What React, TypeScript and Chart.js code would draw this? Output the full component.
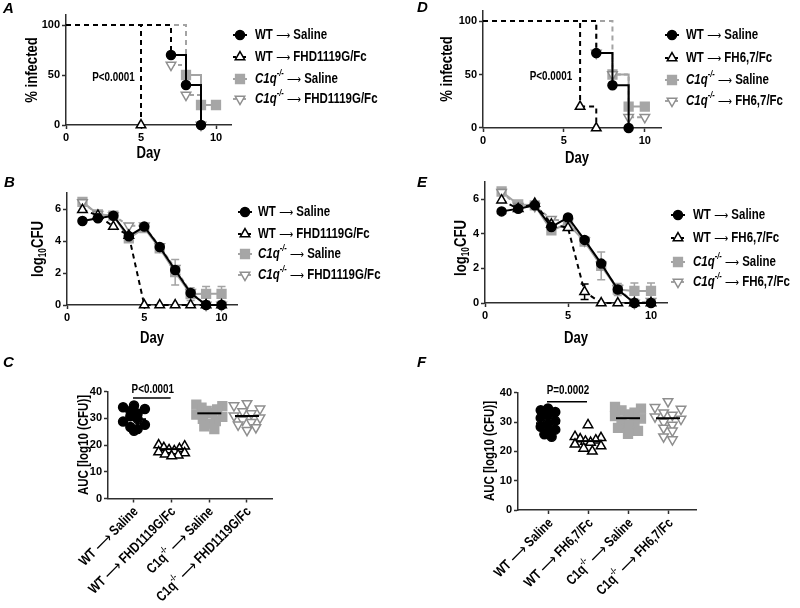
import React, { useEffect, useRef } from 'react';
import { Chart, registerables } from 'chart.js';

Chart.register(...registerables);

// ================= DATA =================
const dayTicks = [0, 5, 10];
const pctTicks = [0, 50, 100];
const cfuTicks = [0, 2, 4, 6];
const aucTicks = [0, 10, 20, 30, 40];
const groupTicks = [1, 2, 3, 4];

const treatLeft = 'FHD1119G/Fc';
const treatRight = 'FH6,7/Fc';
const salineLabel = 'Saline';

// Panel A (survival, % infected)
const kmDaysA_wtSaline = [0, 7, 8, 9];
const kmPctA_wtSaline = [100, 70, 40, 0];
const kmDaysA_wtTreat = [0, 5];
const kmPctA_wtTreat = [100, 0];
const kmDaysA_c1qSaline = [0, 8, 9, 10];
const kmPctA_c1qSaline = [100, 50, 20, 20];
const kmDaysA_c1qTreat = [0, 7, 8, 9];
const kmPctA_c1qTreat = [100, 60, 30, 0];

// Panel D (survival, % infected)
const kmDaysD_wtSaline = [0, 7, 8, 9];
const kmPctD_wtSaline = [100, 70, 40, 0];
const kmDaysD_wtTreat = [0, 6, 7];
const kmPctD_wtTreat = [100, 20, 0];
const kmDaysD_c1qSaline = [0, 8, 9, 10];
const kmPctD_c1qSaline = [100, 50, 20, 20];
const kmDaysD_c1qTreat = [0, 7, 8, 9, 10];
const kmPctD_c1qTreat = [100, 70, 50, 10, 10];

// Panels B / E (log10 CFU by day)
const cfuDays = [1, 2, 3, 4, 5, 6, 7, 8, 9, 10];
const cfuB_wtSaline = [5.25, 5.42, 5.58, 4.3, 4.9, 3.62, 2.19, 0.75, 0, 0];
const cfuB_wtTreat = [5.95, 5.6, 4.9, 4.35, 0, 0, 0, 0, 0, 0];
const cfuB_c1qSaline = [6.45, 5.67, 5.58, 4.17, 4.8, 3.54, 2.05, 0.68, 0.7, 0.7];
const cfuB_c1qSalineErr = [0, 0, 0, 0, 0, 0, 0.8, 0.4, 0.45, 0.45];
const cfuB_c1qTreat = [6.4, 5.67, 5.6, 4.95, 4.95, 3.65, 2.3, 0.8, 0, 0];

const cfuE_wtSaline = [5.3, 5.45, 5.65, 4.4, 4.95, 3.65, 2.28, 0.78, 0, 0];
const cfuE_wtTreat = [5.95, 5.45, 5.75, 4.55, 4.35, 0.65, 0, 0, 0, 0];
const cfuE_wtTreatErr = [0, 0, 0, 0, 0, 0.45, 0, 0, 0, 0];
const cfuE_c1qSaline = [6.45, 5.7, 5.65, 4.2, 4.6, 3.55, 2.15, 0.78, 0.7, 0.7];
const cfuE_c1qSalineErr = [0, 0, 0, 0, 0, 0, 0.8, 0.35, 0.45, 0.45];
const cfuE_c1qTreat = [6.4, 5.6, 5.6, 4.85, 4.7, 3.6, 2.2, 0.85, 0, 0.1];

// Panels C / F (AUC per animal)
const aucC_wtSaline = [34.8, 34.2, 33.5, 32.8, 31.8, 30.8, 29.8, 28.8, 27.6, 26.8, 26, 25.4];
const aucC_wtTreat = [20, 19.6, 19, 18.6, 18.2, 17.8, 17.4, 17, 16.6, 16.2, 15.9];
const aucC_c1qSaline = [35.2, 34.6, 34, 33.4, 32.8, 32, 31.4, 30.6, 29.8, 29, 28, 27, 26];
const aucC_c1qTreat = [35.6, 34.8, 33.6, 32.6, 31.8, 31, 30.2, 29.4, 28.6, 27.6, 26.6, 25.6];
const aucC_means = [29.7, 18.5, 31.9, 30.9];

const aucF_wtSaline = [34.6, 34, 33.4, 32.4, 31.4, 30.4, 29.4, 28.4, 27.4, 26.6, 25.8, 25];
const aucF_wtTreat = [29, 25, 24.6, 24.2, 23.8, 23.4, 23, 22.4, 21.8, 21, 20];
const aucF_c1qSaline = [35.2, 34.6, 34, 33.2, 32.6, 32, 31.2, 30.6, 29.8, 29, 28, 27, 26];
const aucF_c1qTreat = [37, 35, 34.4, 33.2, 32.4, 31.8, 31, 30, 29, 28, 27, 25, 24];
const aucF_means = [29.6, 23.5, 31.3, 31.3];

const pTextA = 'P<0.0001';
const pTextD = 'P<0.0001';
const pTextC = 'P<0.0001';
const pTextF = 'P=0.0002';

// ================= STYLE =================
const SANS = "'Liberation Sans', Arial, sans-serif";
const ARROW_FAM = "'DejaVu Sans', 'Liberation Sans', sans-serif";
const SQ = 0.82; // horizontal squeeze to imitate a narrow face
const INK = '#000000';
const AXIS = '#2e2e2e';
const GRAY = '#a6a6a6';
const GRAY_LINE = '#a3a3a3';
const GRAY_OPEN = '#8e8e8e';
const KM_DASH = [5, 4];

type Shape = 'circle' | 'triangle' | 'rect' | 'invtri';
type Style = { shape: Shape; fill: string; stroke: string; line: string; dash: number[] };
const RADIUS: Record<Shape, number> = { circle: 4.5, triangle: 5.5, rect: 6.2, invtri: 5.5 };

const ST_WT_SAL: Style = { shape: 'circle', fill: INK, stroke: INK, line: INK, dash: [] };
const ST_WT_TRT: Style = { shape: 'triangle', fill: '#ffffff', stroke: INK, line: INK, dash: [5, 4] };
const ST_C1Q_SAL: Style = { shape: 'rect', fill: GRAY, stroke: GRAY, line: GRAY_LINE, dash: [] };
const ST_C1Q_TRT: Style = { shape: 'invtri', fill: '#ffffff', stroke: GRAY_OPEN, line: GRAY_LINE, dash: [4, 3] };
const LEGEND_STYLES = [ST_WT_SAL, ST_WT_TRT, ST_C1Q_SAL, ST_C1Q_TRT];

// ================= TEXT HELPERS =================
type Run = { t: string; w?: string; i?: boolean; s?: number; dy?: number; f?: string };
const arrowRuns = (size: number): Run[] => [{ t: ' ' }, { t: '\u27F6', w: 'normal', f: ARROW_FAM, s: size, dy: 1 }, { t: ' ' }];
const wtRuns = (treat: string, arrow: number): Run[] => [{ t: 'WT' }, ...arrowRuns(arrow), { t: treat }];
const c1qRuns = (treat: string, italic: boolean, arrow: number): Run[] => [
  { t: 'C1q', i: italic },
  { t: '-/-', i: italic, s: 9, dy: -5 },
  ...arrowRuns(arrow),
  { t: treat },
];

function runFont(r: Run, base: number) {
  return `${r.i ? 'italic ' : ''}${r.w ?? 'bold'} ${r.s ?? base}px ${r.f ?? SANS}`;
}
function runsWidth(ctx: CanvasRenderingContext2D, runs: Run[], base: number) {
  let w = 0;
  for (const r of runs) {
    ctx.font = runFont(r, base);
    w += ctx.measureText(r.t).width;
  }
  return w * SQ;
}
function drawRuns(ctx: CanvasRenderingContext2D, runs: Run[], x: number, y: number, base: number) {
  ctx.save();
  ctx.translate(x, y);
  ctx.scale(SQ, 1);
  ctx.textBaseline = 'middle';
  ctx.textAlign = 'left';
  let cx = 0;
  for (const r of runs) {
    ctx.font = runFont(r, base);
    ctx.fillText(r.t, cx, r.dy ?? 0);
    cx += ctx.measureText(r.t).width;
  }
  ctx.restore();
}
function drawRotRuns(ctx: CanvasRenderingContext2D, runs: Run[], cx: number, cy: number, angle: number, base: number, align: 'center' | 'right') {
  ctx.save();
  ctx.translate(cx, cy);
  ctx.rotate(angle);
  ctx.fillStyle = INK;
  const w = runsWidth(ctx, runs, base);
  drawRuns(ctx, runs, align === 'center' ? -w / 2 : -w, 0, base);
  ctx.restore();
}
function centerText(ctx: CanvasRenderingContext2D, t: string, x: number, y: number, size: number) {
  drawRotRuns(ctx, [{ t }], x, y, 0, size, 'center');
}
function letter(ctx: CanvasRenderingContext2D, t: string, x: number, y: number) {
  ctx.save();
  ctx.fillStyle = INK;
  ctx.font = `italic bold 15px ${SANS}`;
  ctx.textAlign = 'left';
  ctx.textBaseline = 'alphabetic';
  ctx.fillText(t, x, y);
  ctx.restore();
}

function marker(ctx: CanvasRenderingContext2D, shape: Shape, x: number, y: number, r: number, fill: string, stroke: string, lw: number) {
  ctx.beginPath();
  if (shape === 'circle') ctx.arc(x, y, r, 0, Math.PI * 2);
  else if (shape === 'rect') {
    const s = r * Math.SQRT1_2;
    ctx.rect(x - s, y - s, 2 * s, 2 * s);
  } else {
    const rot = shape === 'invtri' ? Math.PI : 0;
    for (let i = 0; i < 3; i++) {
      const a = rot + (i * 2 * Math.PI) / 3;
      const px = x + Math.sin(a) * r;
      const py = y - Math.cos(a) * r;
      if (i === 0) ctx.moveTo(px, py);
      else ctx.lineTo(px, py);
    }
    ctx.closePath();
  }
  ctx.fillStyle = fill;
  ctx.fill();
  ctx.lineWidth = lw;
  ctx.strokeStyle = stroke;
  ctx.stroke();
}

function drawLegend(ctx: CanvasRenderingContext2D, mx: number, tx: number, ys: number[], labels: Run[][]) {
  ctx.save();
  LEGEND_STYLES.forEach((st, i) => {
    const y = ys[i];
    ctx.strokeStyle = st.line;
    ctx.lineWidth = 2;
    ctx.setLineDash(st.dash.length ? [3, 2] : []);
    ctx.beginPath();
    ctx.moveTo(mx - 7, y);
    ctx.lineTo(mx + 7, y);
    ctx.stroke();
    ctx.setLineDash([]);
    marker(ctx, st.shape, mx, y, RADIUS[st.shape], st.fill, st.stroke, 1.5);
    ctx.fillStyle = INK;
    drawRuns(ctx, labels[i], tx, y, 14);
  });
  ctx.restore();
}

function legendRuns(treat: string): Run[][] {
  return [wtRuns(salineLabel, 12), wtRuns(treat, 12), c1qRuns(salineLabel, true, 12), c1qRuns(treat, true, 12)];
}
function categoryRuns(treat: string): Run[][] {
  return [wtRuns(salineLabel, 16), wtRuns(treat, 16), c1qRuns(salineLabel, false, 16), c1qRuns(treat, false, 16)];
}

function errorBars(ctx: CanvasRenderingContext2D, chart: any, xs: number[], ys: number[], errs: number[], color: string) {
  const sx = chart.scales.x;
  const sy = chart.scales.y;
  ctx.save();
  ctx.strokeStyle = color;
  ctx.lineWidth = 1.5;
  xs.forEach((x, i) => {
    const e = errs[i];
    if (!e) return;
    const px = sx.getPixelForValue(x);
    const y1 = sy.getPixelForValue(ys[i] + e);
    const y2 = sy.getPixelForValue(Math.max(0, ys[i] - e));
    ctx.beginPath();
    ctx.moveTo(px, y1);
    ctx.lineTo(px, y2);
    ctx.moveTo(px - 4, y1);
    ctx.lineTo(px + 4, y1);
    ctx.moveTo(px - 4, y2);
    ctx.lineTo(px + 4, y2);
    ctx.stroke();
  });
  ctx.restore();
}

function meanLines(ctx: CanvasRenderingContext2D, chart: any, means: number[]) {
  const sx = chart.scales.x;
  const sy = chart.scales.y;
  ctx.save();
  ctx.strokeStyle = INK;
  ctx.lineWidth = 2;
  means.forEach((m, i) => {
    const cx = sx.getPixelForValue(groupTicks[i]);
    const y = sy.getPixelForValue(m);
    ctx.beginPath();
    ctx.moveTo(cx - 12, y);
    ctx.lineTo(cx + 12, y);
    ctx.stroke();
  });
  ctx.restore();
}

function pBar(ctx: CanvasRenderingContext2D, chart: any, t: string, y: number, textY: number) {
  const sx = chart.scales.x;
  const x1 = sx.getPixelForValue(groupTicks[0]);
  const x2 = sx.getPixelForValue(groupTicks[1]);
  ctx.save();
  ctx.strokeStyle = INK;
  ctx.lineWidth = 1.5;
  ctx.beginPath();
  ctx.moveTo(x1 - 1, y);
  ctx.lineTo(x2 - 1, y);
  ctx.stroke();
  ctx.restore();
  centerText(ctx, t, (x1 + x2) / 2, textY, 12);
}

function categoryLabels(ctx: CanvasRenderingContext2D, chart: any, labels: Run[][], dx: number, dy: number) {
  const sx = chart.scales.x;
  const base = chart.chartArea.bottom;
  labels.forEach((runs, i) => {
    const x = sx.getPixelForValue(groupTicks[i]);
    drawRotRuns(ctx, runs, x + dx, base + dy, -Math.PI / 4, 14, 'right');
  });
}

// Prism-like scatter layout: points in the same row band are spread side by side,
// higher values towards the outside of the row (layout only)
function swarm(values: number[], cat: number, pxX: number, pxY: number, diam: number): number[] {
  const binH = diam * 0.9;
  const maxHalf = 13;
  const order = values.map((_, i) => i).sort((a, b) => values[b] - values[a]);
  const bins = new Map<number, number[]>();
  order.forEach((i) => {
    const k = Math.floor((values[i] * pxY) / binH);
    if (!bins.has(k)) bins.set(k, []);
    bins.get(k)!.push(i);
  });
  const xs = values.map(() => cat);
  bins.forEach((idx) => {
    const n = idx.length;
    if (n < 2) return;
    const sp = Math.min(diam * 0.85, (2 * maxHalf) / (n - 1));
    const slots: number[] = [];
    let lo = 0;
    let hi = n - 1;
    while (lo <= hi) {
      slots.push(lo++);
      if (lo <= hi) slots.push(hi--);
    }
    idx.forEach((i, j) => {
      xs[i] = cat + ((slots[j] - (n - 1) / 2) * sp) / pxX;
    });
  });
  return xs;
}

function series(st: Style, xs: number[], ys: number[], mode: 'km' | 'line' | 'dots') {
  const r = RADIUS[st.shape];
  const base: any = {
    data: xs.map((x, i) => ({ x, y: ys[i] })),
    showLine: mode !== 'dots',
    stepped: mode === 'km' ? 'before' : false,
    borderColor: st.line,
    borderWidth: 2,
    borderDash: st.dash,
    fill: false,
    tension: 0,
    pointStyle: st.shape === 'invtri' ? 'triangle' : st.shape,
    pointRotation: st.shape === 'invtri' ? 180 : 0,
    pointRadius: mode === 'km' ? xs.map((_, i) => (i === 0 ? 0 : r)) : r,
    pointBackgroundColor: st.fill,
    pointBorderColor: st.stroke,
    pointBorderWidth: 1.5,
    pointHoverRadius: 0,
    clip: false,
  };
  if (mode === 'km') {
    // the shared 100 % run from day 0 shows up dashed in the figure
    base.segment = { borderDash: (c: any) => (c.p0DataIndex === 0 ? KM_DASH : undefined) };
  }
  return base;
}

type Panel = {
  area: { l: number; r: number; t: number; b: number };
  x: { min: number; max: number; ticks: number[]; labels: boolean };
  y: { min: number; max: number; ticks: number[] };
  datasets: any[];
  under?: (ctx: CanvasRenderingContext2D, chart: any) => void;
  over?: (ctx: CanvasRenderingContext2D, chart: any) => void;
  after?: (ctx: CanvasRenderingContext2D, chart: any) => void;
};

const Y_BOX = 40;
const X_BOX = 22;

function makeConfig(p: Panel): any {
  const { l, r, t, b } = p.area;
  const tickFont = { family: SANS, size: 11, weight: 'bold' as const };
  const grid = { display: true, drawOnChartArea: false, drawTicks: true, tickLength: 4, tickColor: AXIS, tickWidth: 1.5 };
  const border = { display: true, color: AXIS, width: 1.5 };
  return {
    type: 'line',
    data: { datasets: p.datasets },
    options: {
      responsive: false,
      animation: false,
      devicePixelRatio: 1,
      events: [],
      layout: { autoPadding: false, padding: { left: l - Y_BOX, right: 800 - r, top: t, bottom: 608 - b - X_BOX } },
      plugins: { legend: { display: false }, tooltip: { enabled: false }, title: { display: false } },
      scales: {
        x: {
          type: 'linear',
          min: p.x.min,
          max: p.x.max,
          afterFit: (s: any) => { s.height = X_BOX; },
          afterBuildTicks: (s: any) => { s.ticks = p.x.ticks.map((v) => ({ value: v })); },
          ticks: { font: tickFont, color: INK, padding: 2, autoSkip: false, maxRotation: 0, callback: (v: any) => (p.x.labels ? String(v) : '') },
          grid,
          border,
        },
        y: {
          type: 'linear',
          min: p.y.min,
          max: p.y.max,
          afterFit: (s: any) => { s.width = Y_BOX; },
          afterBuildTicks: (s: any) => { s.ticks = p.y.ticks.map((v) => ({ value: v })); },
          ticks: { font: tickFont, color: INK, padding: 2, autoSkip: false, callback: (v: any) => String(v) },
          grid,
          border,
        },
      },
    },
    plugins: [
      {
        id: 'deco',
        beforeDatasetsDraw: (c: any) => p.under && p.under(c.ctx, c),
        afterDatasetsDraw: (c: any) => p.over && p.over(c.ctx, c),
        afterDraw: (c: any) => p.after && p.after(c.ctx, c),
      },
    ],
  };
}

const infectedTitle: Run[] = [{ t: '% infected' }];
const cfuTitle: Run[] = [{ t: 'log' }, { t: '10', s: 10, dy: 4 }, { t: 'CFU' }];
const aucTitle: Run[] = [{ t: 'AUC [log10 (CFU)]' }];

function panelA(): Panel {
  return {
    area: { l: 66, r: 231, t: 15, b: 125 },
    x: { min: 0, max: 11, ticks: dayTicks, labels: true },
    y: { min: 0, max: 110, ticks: pctTicks },
    datasets: [
      series(ST_WT_SAL, kmDaysA_wtSaline, kmPctA_wtSaline, 'km'),
      series(ST_WT_TRT, kmDaysA_wtTreat, kmPctA_wtTreat, 'km'),
      series(ST_C1Q_TRT, kmDaysA_c1qTreat, kmPctA_c1qTreat, 'km'),
      series(ST_C1Q_SAL, kmDaysA_c1qSaline, kmPctA_c1qSaline, 'km'),
    ],
    after: (ctx) => {
      letter(ctx, 'A', 3, 13);
      drawRotRuns(ctx, infectedTitle, 33, 70, -Math.PI / 2, 16, 'center');
      centerText(ctx, 'Day', 148.5, 154, 16);
      centerText(ctx, pTextA, 113.5, 77.5, 12);
      drawLegend(ctx, 240, 255, [35, 57, 79, 99], legendRuns(treatLeft));
    },
  };
}

function panelD(): Panel {
  return {
    area: { l: 483, r: 661, t: 10.3, b: 128 },
    x: { min: 0, max: 11, ticks: dayTicks, labels: true },
    y: { min: 0, max: 110, ticks: pctTicks },
    datasets: [
      series(ST_WT_SAL, kmDaysD_wtSaline, kmPctD_wtSaline, 'km'),
      series(ST_WT_TRT, kmDaysD_wtTreat, kmPctD_wtTreat, 'km'),
      series(ST_C1Q_TRT, kmDaysD_c1qTreat, kmPctD_c1qTreat, 'km'),
      series(ST_C1Q_SAL, kmDaysD_c1qSaline, kmPctD_c1qSaline, 'km'),
    ],
    after: (ctx) => {
      letter(ctx, 'D', 417, 12);
      drawRotRuns(ctx, infectedTitle, 448, 69, -Math.PI / 2, 16, 'center');
      centerText(ctx, 'Day', 577, 159, 16);
      centerText(ctx, pTextD, 551, 77, 12);
      drawLegend(ctx, 672, 686, [35, 58, 80, 101], legendRuns(treatRight));
    },
  };
}

function panelB(): Panel {
  return {
    area: { l: 67, r: 237, t: 193, b: 305 },
    x: { min: 0, max: 11, ticks: dayTicks, labels: true },
    y: { min: 0, max: 7, ticks: cfuTicks },
    datasets: [
      series(ST_WT_SAL, cfuDays, cfuB_wtSaline, 'line'),
      series(ST_WT_TRT, cfuDays, cfuB_wtTreat, 'line'),
      series(ST_C1Q_TRT, cfuDays, cfuB_c1qTreat, 'line'),
      series(ST_C1Q_SAL, cfuDays, cfuB_c1qSaline, 'line'),
    ],
    under: (ctx, c) => errorBars(ctx, c, cfuDays, cfuB_c1qSaline, cfuB_c1qSalineErr, GRAY_LINE),
    after: (ctx) => {
      letter(ctx, 'B', 4, 187);
      drawRotRuns(ctx, cfuTitle, 39, 249, -Math.PI / 2, 16, 'center');
      centerText(ctx, 'Day', 152, 339, 16);
      drawLegend(ctx, 245, 258, [212, 234, 254, 275], legendRuns(treatLeft));
    },
  };
}

function panelE(): Panel {
  return {
    area: { l: 485, r: 667.6, t: 182, b: 303 },
    x: { min: 0, max: 11, ticks: dayTicks, labels: true },
    y: { min: 0, max: 7, ticks: cfuTicks },
    datasets: [
      series(ST_WT_SAL, cfuDays, cfuE_wtSaline, 'line'),
      series(ST_WT_TRT, cfuDays, cfuE_wtTreat, 'line'),
      series(ST_C1Q_TRT, cfuDays, cfuE_c1qTreat, 'line'),
      series(ST_C1Q_SAL, cfuDays, cfuE_c1qSaline, 'line'),
    ],
    under: (ctx, c) => {
      errorBars(ctx, c, cfuDays, cfuE_c1qSaline, cfuE_c1qSalineErr, GRAY_LINE);
      errorBars(ctx, c, cfuDays, cfuE_wtTreat, cfuE_wtTreatErr, INK);
    },
    after: (ctx) => {
      letter(ctx, 'E', 417, 187);
      drawRotRuns(ctx, cfuTitle, 462, 248, -Math.PI / 2, 16, 'center');
      centerText(ctx, 'Day', 576, 339, 16);
      drawLegend(ctx, 678, 693, [215, 238, 262, 282], legendRuns(treatRight));
    },
  };
}

function aucPanel(
  area: Panel['area'], xmin: number, xmax: number,
  groups: number[][], means: number[], pText: string, pY: number, pTextY: number,
  treat: string, letterPos: [string, number, number], titlePos: [number, number], labelDx: number,
): Panel {
  const pxX = (area.r - area.l) / (xmax - xmin);
  const pxY = (area.b - area.t) / 40;
  const styles = [ST_WT_SAL, ST_WT_TRT, ST_C1Q_SAL, ST_C1Q_TRT];
  const datasets = groups.map((vals, gi) => {
    const st = styles[gi];
    const xs = swarm(vals, groupTicks[gi], pxX, pxY, RADIUS[st.shape] * 1.9);
    return series(st, xs, vals, 'dots');
  });
  return {
    area,
    x: { min: xmin, max: xmax, ticks: groupTicks, labels: false },
    y: { min: 0, max: 40, ticks: aucTicks },
    datasets,
    over: (ctx, c) => meanLines(ctx, c, means),
    after: (ctx, c) => {
      letter(ctx, letterPos[0], letterPos[1], letterPos[2]);
      drawRotRuns(ctx, aucTitle, titlePos[0], titlePos[1], -Math.PI / 2, 14, 'center');
      pBar(ctx, c, pText, pY, pTextY);
      categoryLabels(ctx, c, categoryRuns(treat), labelDx, 11);
    },
  };
}

function panelC(): Panel {
  return aucPanel(
    { l: 108, r: 272, t: 391.7, b: 498.5 }, 0.31, 4.664,
    [aucC_wtSaline, aucC_wtTreat, aucC_c1qSaline, aucC_c1qTreat], aucC_means,
    pTextC, 398, 390, treatLeft, ['C', 3, 367], [84, 445], 2,
  );
}

function panelF(): Panel {
  return aucPanel(
    { l: 518, r: 696, t: 392.7, b: 510 }, 0.25, 4.7,
    [aucF_wtSaline, aucF_wtTreat, aucF_c1qSaline, aucF_c1qTreat], aucF_means,
    pTextF, 401.7, 391, treatRight, ['F', 417, 367], [490, 451], 3,
  );
}

const PANEL_MAKERS = [panelA, panelD, panelB, panelE, panelC, panelF];

function PanelCanvas({ make }: { make: () => Panel }) {
  const ref = useRef<HTMLCanvasElement | null>(null);
  useEffect(() => {
    if (!ref.current) return;
    const chart = new Chart(ref.current, makeConfig(make()));
    return () => chart.destroy();
  }, [make]);
  return (
    <canvas
      ref={ref}
      width={800}
      height={608}
      style={{ position: 'absolute', left: 0, top: 0, width: 800, height: 608 }}
    />
  );
}

export default function App() {
  return (
    <div style={{ position: 'fixed', left: 0, top: 0, width: 800, height: 608, background: '#ffffff', overflow: 'hidden' }}>
      {PANEL_MAKERS.map((m, i) => (
        <PanelCanvas key={i} make={m} />
      ))}
    </div>
  );
}
